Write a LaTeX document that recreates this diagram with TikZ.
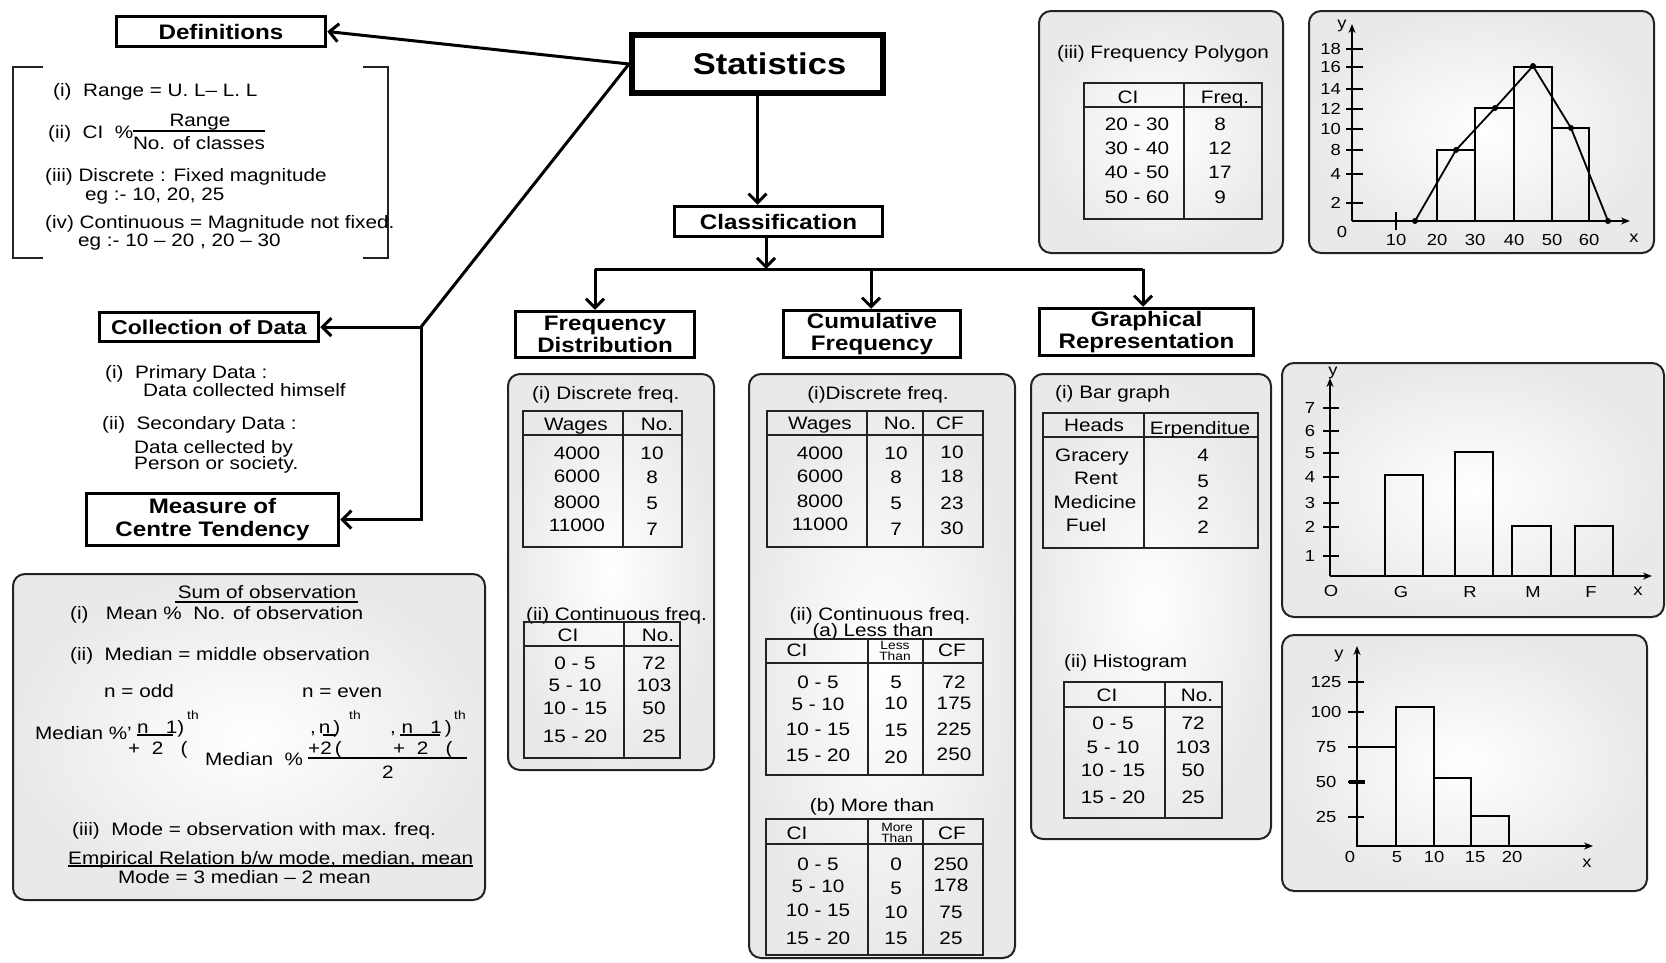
\documentclass[tikz, border = 0pt]{standalone}
\usepackage{fontspec}
\setmainfont{Liberation Sans}[FakeStretch = 1.15]
\usetikzlibrary{arrows.meta}

\definecolor{panelgray}{RGB}{233, 233, 233}
\definecolor{inkgray}{RGB}{35, 35, 35}

\tikzset{
	headbox/.style = {draw, line width = 3.5pt, inner sep = 0pt, align = center, font = \fontsize{21}{22}\selectfont\bfseries},
	txt/.style = {inner sep = 0pt, text height = 13pt, text depth = 0pt, font = \fontsize{18}{21}\selectfont},
	lbl/.style = {inner sep = 0pt, text height = 11.5pt, text depth = 0pt, font = \fontsize{16}{19}\selectfont},
	wee/.style = {inner sep = 0pt, align = center, font = \fontsize{12}{11}\selectfont},
	panel/.style = {draw = inkgray, line width = 2pt, rounded corners = 12pt, inner color = white, outer color = panelgray},
	tabline/.style = {draw = inkgray, line width = 2.5pt},
	link/.style = {->, line width = 3pt},
	chartaxis/.style = {-{Stealth[length = 9pt, width = 7pt]}, line width = 1.8pt},
	barline/.style = {line width = 1.8pt}
}

\begin{document}
\begin{tikzpicture}[x = 1pt, y = -1pt, > = {Straight Barb[length = 9pt, width = 18pt]}]

	\useasboundingbox (0, 0) rectangle (1666, 962);

	% Boxes

	\node [headbox, line width = 6pt, minimum width = 251pt, minimum height = 58pt, font = \fontsize{30}{34}\selectfont\bfseries] (stat) at (757.5, 64) {\hspace{24pt}Statistics};
	\node [headbox, minimum width = 209pt, minimum height = 30pt] (def) at (221, 31.5) {Definitions};
	\node [headbox, minimum width = 208pt, minimum height = 30pt] (cls) at (778.5, 221.5) {Classification};
	\node [headbox, minimum width = 219pt, minimum height = 29pt, font = \fontsize{20}{22}\selectfont\bfseries] (coll) at (209, 327) {Collection of Data};
	\node [headbox, minimum width = 252pt, minimum height = 52pt, font = \fontsize{21}{23}\selectfont\bfseries] (meas) at (212.5, 519.5) {Measure of\\Centre Tendency};
	\node [headbox, minimum width = 179pt, minimum height = 46pt] (fd) at (605, 334.5) {Frequency\\Distribution};
	\node [headbox, minimum width = 177pt, minimum height = 47pt] (cf) at (872, 334) {Cumulative\\Frequency};
	\node [headbox, minimum width = 214pt, minimum height = 47pt] (gr) at (1146.5, 332) {Graphical\\Representation};

	% Connectors

	\coordinate (split) at (421, 327);
	\coordinate (jn) at (766, 269);
	\coordinate (jl) at (595, 269);
	\coordinate (jm) at (871, 269);
	\coordinate (jr) at (1143, 269);

	\draw [link] (stat.west) -- (def.east);
	\draw [line width = 3pt] (stat.west) -- (split);
	\draw [link] (split) -- (coll.east);
	\draw [link] (split) |- (meas.east);
	\draw [link] (stat.south) -- (stat.south |- cls.north);
	\draw [link] (jn |- cls.south) -- (jn);
	\draw [line width = 3pt] (jl) -- (jr);
	\draw [link] (jl) -- (jl |- fd.north);
	\draw [link] (jm) -- (jm |- cf.north);
	\draw [link] (jr) -- (jr |- gr.north);

	% Definitions

	\draw [line width = 2pt, inkgray] (43, 67) -- (13, 67) -- (13, 258) -- (43, 258);
	\draw [line width = 2pt, inkgray] (363, 67) -- (388, 67) -- (388, 258) -- (363, 258);
	\node [txt, anchor = west] (d1) at (53, 90) {(i)\ \ Range = U. L– L. L};
	\node [txt, anchor = west] (d2) at (48, 132) {(ii)\ \ CI \ \%};
	\node [txt] (d2a) at (200, 120) {Range};
	\draw [line width = 1.5pt] (133, 131) -- (265, 131);
	\node [txt] (d2b) at (199, 143) {No. of classes};
	\node [txt, anchor = west] (d3) at (45, 175) {(iii) Discrete : Fixed magnitude};
	\node [txt, anchor = west] (d3a) at (85, 194) {eg :- 10, 20, 25};
	\node [txt, anchor = west] (d4) at (45, 222) {(iv) Continuous = Magnitude not fixed.};
	\node [txt, anchor = west] (d4a) at (78, 240) {eg :- 10 – 20 , 20 – 30};

	% Collection of data

	\node [txt, anchor = west] (c1) at (105, 372) {(i)\ \ Primary Data :};
	\node [txt, anchor = west] (c1a) at (143, 390) {Data collected himself};
	\node [txt, anchor = west] (c2) at (102, 423) {(ii)\ \ Secondary Data :};
	\node [txt, anchor = west] (c2a) at (134, 447) {Data cellected by};
	\node [txt, anchor = west] (c2b) at (134, 463) {Person or society.};

	% Centre tendency

	\shadedraw [panel] (13, 574) rectangle (485, 900);
	\node [txt] (m1) at (267, 592) {Sum of observation};
	\draw [line width = 1.5pt] (175, 602) -- (358, 602);
	\node [txt, anchor = west] (m2) at (70, 613) {(i)\ \ \ Mean \% \ No. of observation};
	\node [txt, anchor = west] (m3) at (70, 654) {(ii)\ \ Median = middle observation};
	\node [txt, anchor = west] (m4) at (104, 691) {n = odd};
	\node [txt, anchor = west] (m5) at (302, 691) {n = even};
	\node [txt, anchor = west] (m6) at (35, 733) {Median \%’};
	\node [txt, anchor = west] (m7) at (137, 727) {n\ \ \ 1)};
	\draw [line width = 1.5pt] (137, 735) -- (173, 735);
	\node [wee] (m8) at (193, 715) {th};
	\node [txt, anchor = west] (m9) at (128, 748) {+\ \ 2\ \ \ (};
	\node [txt, anchor = west] (m10) at (205, 759) {Median\ \ \%};
	\node [txt, anchor = west] (m11) at (310, 727) {,\,n\,)};
	\draw [line width = 1.5pt] (323, 735) -- (336, 735);
	\node [wee] (m12) at (355, 715) {th};
	\node [txt, anchor = west] (m13) at (308, 748) {+2\,(};
	\node [txt, anchor = west] (m14) at (390, 727) {,\ n\ \ \ 1\,)};
	\draw [line width = 1.5pt] (400, 735) -- (440, 735);
	\node [wee] (m15) at (460, 715) {th};
	\node [txt, anchor = west] (m16) at (393, 748) {+\ \ 2\ \ \ (};
	\draw [line width = 1.5pt] (308, 758) -- (467, 758);
	\node [txt] (m17) at (388, 772) {2};
	\node [txt, anchor = west] (m18) at (72, 829) {(iii)\ \ Mode = observation with max. freq.};
	\node [txt, anchor = west] (m19) at (68, 858) {Empirical Relation b/w mode, median, mean};
	\draw [line width = 1.5pt] (68, 866) -- (473, 866);
	\node [txt, anchor = west] (m20) at (118, 877) {Mode = 3 median – 2 mean};

	% Frequency distribution

	\shadedraw [panel] (508, 374) rectangle (714, 770);
	\node [txt, anchor = west] (fd1) at (532, 393) {(i) Discrete freq.};
	\draw [tabline] (523, 411) rectangle (682, 547);
	\draw [tabline] (523, 435) -- (682, 435) (623, 411) -- (623, 547);
	\node [txt] (fdh1) at (576, 424) {Wages};
	\node [txt] (fdh2) at (657, 424) {No.};
	\foreach \w/\ya/\n/\yb in {4000/453/10/453, 6000/476/8/477, 8000/502/5/503, 11000/525/7/529}
	{
		\node [txt] (fdw\w) at (577, \ya) {\w};
		\node [txt] (fdn\w) at (652, \yb) {\n};
	}
	\node [txt, anchor = west] (fd2) at (526, 614) {(ii) Continuous freq.};
	\draw [tabline] (524, 622) rectangle (680, 758);
	\draw [tabline] (524, 646) -- (680, 646) (624, 622) -- (624, 758);
	\node [txt] (fdh3) at (568, 635) {CI};
	\node [txt] (fdh4) at (658, 635) {No.};
	\foreach \c/\n/\y in {0 - 5/72/663, 5 - 10/103/685, 10 - 15/50/708, 15 - 20/25/736}
	{
		\node [txt] (fdc\y) at (575, \y) {\c};
		\node [txt] (fdm\y) at (654, \y) {\n};
	}

	% Cumulative frequency

	\shadedraw [panel] (749, 374) rectangle (1015, 958);
	\node [txt] (cf1) at (878, 393) {(i)Discrete freq.};
	\draw [tabline] (767, 411) rectangle (983, 547);
	\draw [tabline] (767, 435) -- (983, 435) (867, 411) -- (867, 547) (923, 411) -- (923, 547);
	\node [txt] (cfh1) at (820, 423) {Wages};
	\node [txt] (cfh2) at (900, 423) {No.};
	\node [txt] (cfh3) at (950, 423) {CF};
	\foreach \w/\ya/\n/\yb/\s/\yc in {4000/453/10/453/10/452, 6000/476/8/477/18/476, 8000/501/5/503/23/503, 11000/524/7/529/30/528}
	{
		\node [txt] (cfw\w) at (820, \ya) {\w};
		\node [txt] (cfn\w) at (896, \yb) {\n};
		\node [txt] (cfs\w) at (952, \yc) {\s};
	}
	\node [txt] (cf2) at (880, 614) {(ii) Continuous freq.};
	\node [txt] (cf3) at (873, 630) {(a) Less than};
	\draw [tabline] (766, 639) rectangle (983, 775);
	\draw [tabline] (766, 663) -- (983, 663) (868, 639) -- (868, 775) (923, 639) -- (923, 775);
	\node [txt] (cfh4) at (797, 650) {CI};
	\node [wee] (cfh5) at (895, 651) {Less\\Than};
	\node [txt] (cfh6) at (952, 650) {CF};
	\foreach \c/\ya/\l/\yb/\s/\yc in {0 - 5/682/5/682/72/682, 5 - 10/704/10/703/175/703, 10 - 15/729/15/730/225/729, 15 - 20/755/20/757/250/754}
	{
		\node [txt] (cflc\ya) at (818, \ya) {\c};
		\node [txt] (cfll\ya) at (896, \yb) {\l};
		\node [txt] (cfls\ya) at (954, \yc) {\s};
	}
	\node [txt] (cf4) at (872, 805) {(b) More than};
	\draw [tabline] (766, 819) rectangle (983, 955);
	\draw [tabline] (766, 844) -- (983, 844) (868, 819) -- (868, 955) (923, 819) -- (923, 955);
	\node [txt] (cfh7) at (797, 833) {CI};
	\node [wee] (cfh8) at (897, 833) {More\\Than};
	\node [txt] (cfh9) at (952, 833) {CF};
	\foreach \c/\ya/\l/\yb/\s/\yc in {0 - 5/864/0/864/250/864, 5 - 10/886/5/888/178/885, 10 - 15/910/10/912/75/912, 15 - 20/938/15/938/25/938}
	{
		\node [txt] (cfmc\ya) at (818, \ya) {\c};
		\node [txt] (cfml\ya) at (896, \yb) {\l};
		\node [txt] (cfms\ya) at (951, \yc) {\s};
	}

	% Graphical representation

	\shadedraw [panel] (1031, 374) rectangle (1271, 839);
	\node [txt, anchor = west] (gr1) at (1055, 392) {(i) Bar graph};
	\draw [tabline] (1043, 413) rectangle (1258, 548);
	\draw [tabline] (1043, 437) -- (1258, 437) (1144, 413) -- (1144, 548);
	\node [txt] (grh1) at (1094, 425) {Heads};
	\node [txt] (grh2) at (1200, 428) {Erpenditue};
	\foreach \h/\x/\ya/\e/\yb in {Gracery/1092/455/4/455, Rent/1096/478/5/481, Medicine/1095/502/2/503, Fuel/1086/525/2/527}
	{
		\node [txt] (grh\h) at (\x, \ya) {\h};
		\node [txt] (gre\h) at (1203, \yb) {\e};
	}
	\node [txt, anchor = west] (gr2) at (1064, 661) {(ii) Histogram};
	\draw [tabline] (1064, 682) rectangle (1222, 818);
	\draw [tabline] (1064, 707) -- (1222, 707) (1165, 682) -- (1165, 818);
	\node [txt] (grh3) at (1107, 695) {CI};
	\node [txt] (grh4) at (1197, 695) {No.};
	\foreach \c/\n/\y in {0 - 5/72/723, 5 - 10/103/747, 10 - 15/50/770, 15 - 20/25/797}
	{
		\node [txt] (grc\y) at (1113, \y) {\c};
		\node [txt] (grn\y) at (1193, \y) {\n};
	}

	% Frequency polygon

	\shadedraw [panel] (1039, 11) rectangle (1283, 253);
	\node [txt] (fp1) at (1163, 52) {(iii) Frequency Polygon};
	\draw [tabline] (1084, 83) rectangle (1262, 219);
	\draw [tabline] (1084, 107) -- (1262, 107) (1184, 83) -- (1184, 219);
	\node [txt] (fph1) at (1128, 97) {CI};
	\node [txt] (fph2) at (1225, 97) {Freq.};
	\foreach \c/\n/\y in {20 - 30/8/124, 30 - 40/12/148, 40 - 50/17/172, 50 - 60/9/197}
	{
		\node [txt] (fpc\y) at (1137, \y) {\c};
		\node [txt] (fpn\y) at (1220, \y) {\n};
	}

	% Polygon chart

	\shadedraw [panel] (1309, 11) rectangle (1654, 253);
	\coordinate (fpo) at (1352, 221);
	\draw [chartaxis] (fpo) -- (1630, 221);
	\draw [chartaxis] (fpo) -- (1352, 24);
	\node [lbl] (fpy) at (1342, 23) {y};
	\node [lbl] (fpx) at (1634, 237) {x};
	\node [lbl] (fp0) at (1342, 232) {0};
	\foreach \v/\y in {18/49, 16/67, 14/89, 12/109, 10/129, 8/150, 4/174, 2/203}
	{
		\draw [barline] (1346, \y) -- (1363, \y);
		\node [lbl, anchor = east] (fpt\v) at (1341, \y) {\v};
	}
	\foreach \v/\x in {10/1396, 20/1437, 30/1475, 40/1514, 50/1552, 60/1589}
		\node [lbl] (fpl\v) at (\x, 240) {\v};
	\draw [barline] (1396, 212) -- (1396, 230);
	\draw [barline] (1437, 221) rectangle (1475, 150) (1475, 221) rectangle (1514, 108) (1514, 221) rectangle (1552, 67) (1552, 221) rectangle (1589, 128);
	\draw [barline] (1415, 221) -- (1456, 150) -- (1495, 108) -- (1533, 66) -- (1571, 128) -- (1608, 221);
	\foreach \px/\py in {1415/221, 1456/150, 1495/108, 1533/66, 1571/128, 1608/221}
		\fill (\px, \py) circle (3pt);

	% Bar chart

	\shadedraw [panel] (1282, 363) rectangle (1664, 617);
	\coordinate (bgo) at (1330, 576);
	\draw [chartaxis] (bgo) -- (1652, 576);
	\draw [chartaxis] (bgo) -- (1330, 378);
	\node [lbl] (bgy) at (1333, 370) {y};
	\node [lbl] (bgx) at (1638, 590) {x};
	\node [lbl] (bg0) at (1331, 591) {O};
	\foreach \v/\y in {7/408, 6/431, 5/453, 4/477, 3/503, 2/527, 1/556}
	{
		\draw [barline] (1323, \y) -- (1339, \y);
		\node [lbl] (bgt\v) at (1310, \y) {\v};
	}
	\draw [barline] (1385, 576) rectangle (1423, 475) (1455, 576) rectangle (1493, 452) (1512, 576) rectangle (1551, 526) (1575, 576) rectangle (1613, 526);
	\foreach \b/\x in {G/1401, R/1470, M/1533, F/1591}
		\node [lbl] (bgl\b) at (\x, 592) {\b};

	% Histogram chart

	\shadedraw [panel] (1282, 635) rectangle (1647, 891);
	\coordinate (hgo) at (1357, 846);
	\draw [chartaxis] (hgo) -- (1593, 846);
	\draw [chartaxis] (hgo) -- (1357, 646);
	\node [lbl] (hgy) at (1339, 653) {y};
	\node [lbl] (hgx) at (1587, 862) {x};
	\node [lbl] (hg0) at (1350, 857) {0};
	\foreach \v/\y in {125/682, 100/712, 75/747, 50/782, 25/817}
	{
		\draw [barline] (1348, \y) -- (1364, \y);
		\node [lbl] (hgt\v) at (1326, \y) {\v};
	}
	\draw [line width = 3.5pt] (1349, 782) -- (1365, 782);
	\draw [barline] (1357, 846) rectangle (1396, 747) (1396, 846) rectangle (1434, 707) (1434, 846) rectangle (1471, 778) (1471, 846) rectangle (1509, 816);
	\foreach \v/\x in {5/1397, 10/1434, 15/1475, 20/1512}
		\node [lbl] (hgl\v) at (\x, 857) {\v};

\end{tikzpicture}
\end{document}
